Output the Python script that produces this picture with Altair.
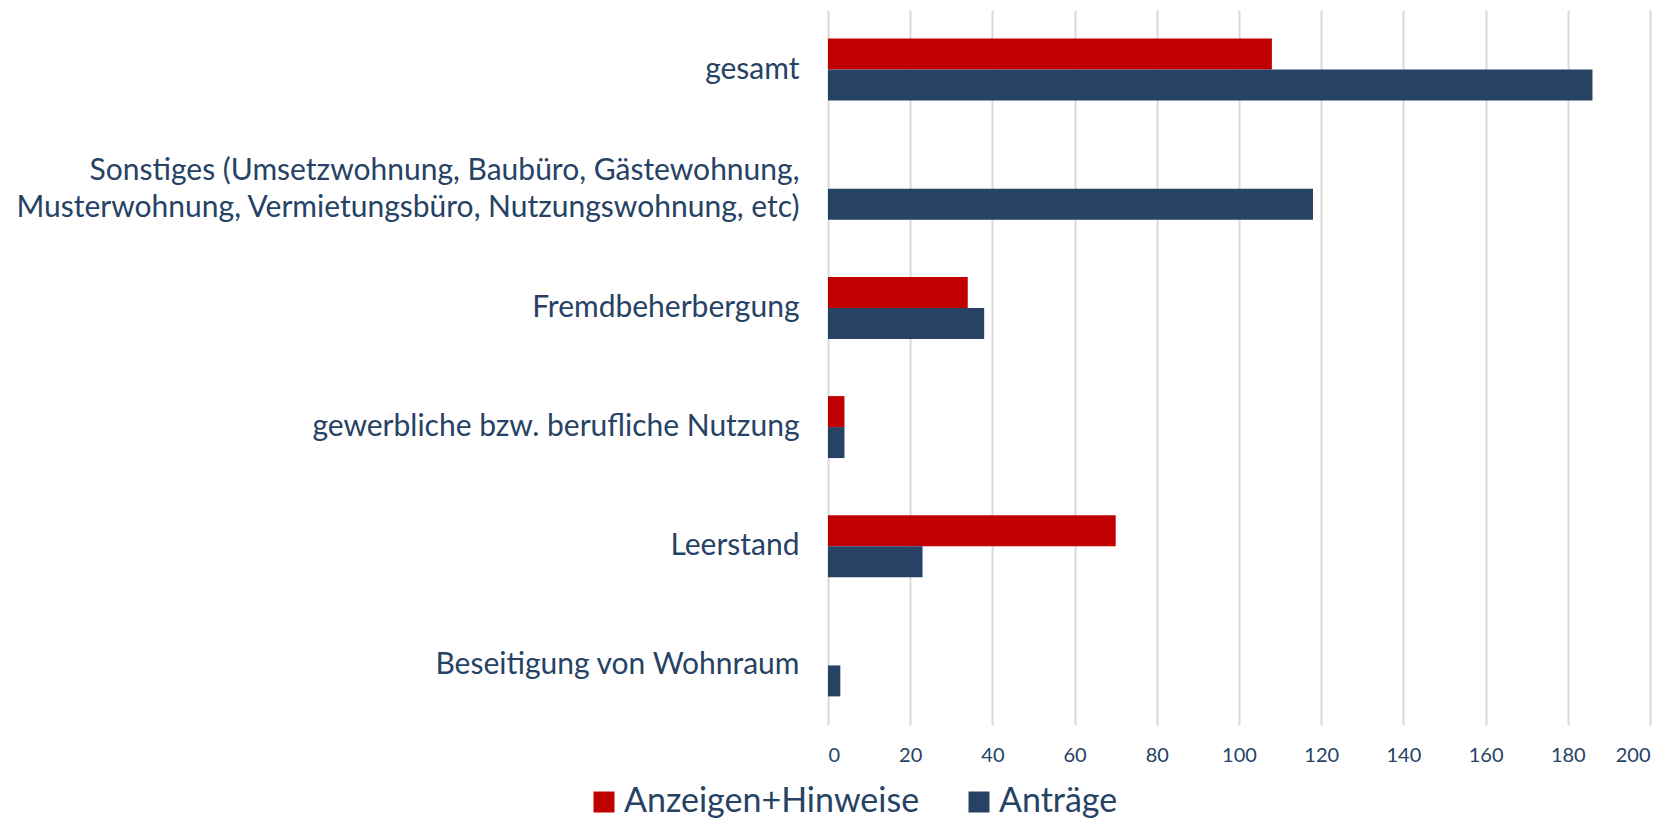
import altair as alt
import pandas as pd

categories = [
    "gesamt",
    "Sonstiges (Umsetzwohnung, Baubüro, Gästewohnung,|Musterwohnung, Vermietungsbüro, Nutzungswohnung, etc)",
    "Fremdbeherbergung",
    "gewerbliche bzw. berufliche Nutzung",
    "Leerstand",
    "Beseitigung von Wohnraum",
]
series = ["Anzeigen+Hinweise", "Anträge"]
anzeigen = [108, 0, 34, 4, 70, 0]
antraege = [186, 118, 38, 4, 23, 3]
colors = ["#C00000", "#264264"]
x_ticks = [0, 20, 40, 60, 80, 100, 120, 140, 160, 180, 200]

rows = []
for c, a, b in zip(categories, anzeigen, antraege):
    rows.append({"Kategorie": c, "Serie": series[0], "Wert": a})
    rows.append({"Kategorie": c, "Serie": series[1], "Wert": b})
df = pd.DataFrame(rows)

text_color = "#264264"
font = "Lato"

chart = alt.Chart(df).mark_bar().encode(
    y=alt.Y(
        "Kategorie:N",
        sort=categories,
        title=None,
        scale=alt.Scale(paddingInner=0.48, paddingOuter=0.24),
        axis=alt.Axis(
            labelExpr="split(datum.label, '|')",
            labelFontSize=30,
            labelFont=font,
            labelColor=text_color,
            labelLineHeight=37,
            labelPadding=29,
            labelLimit=2000,
            labelOffset={
                "condition": {"test": "indexof(datum.value, '|') >= 0", "value": -18},
                "value": 0,
            },
            ticks=False,
            domain=False,
        ),
    ),
    yOffset=alt.YOffset("Serie:N", sort=series, scale=alt.Scale(domain=series)),
    x=alt.X(
        "Wert:Q",
        title=None,
        scale=alt.Scale(domain=[0, 200], nice=False),
        axis=alt.Axis(
            values=x_ticks,
            labelFontSize=20,
            labelFont=font,
            labelColor=text_color,
            labelPadding=20,
            ticks=False,
            domain=False,
            grid=True,
            gridColor="#D9D9D9",
            gridWidth=2,
        ),
    ),
    color=alt.Color(
        "Serie:N",
        scale=alt.Scale(domain=series, range=colors),
        legend=alt.Legend(
            title=None,
            orient="none",
            legendX=-241,
            legendY=775,
            direction="horizontal",
            symbolType="square",
            symbolSize=441,
            symbolStrokeWidth=0,
            labelFontSize=34,
            labelFont=font,
            labelColor=text_color,
            labelOffset=3,
            columnPadding=42,
            labelLimit=1000,
        ),
    ),
).properties(
    width=822,
    height=715,
    autosize=alt.AutoSizeParams(type="none"),
    padding={"left": 820, "top": 2, "right": 10, "bottom": 100},
).configure_view(stroke=None)

chart.save("out.html", embed_options={"renderer": "svg", "actions": False})
